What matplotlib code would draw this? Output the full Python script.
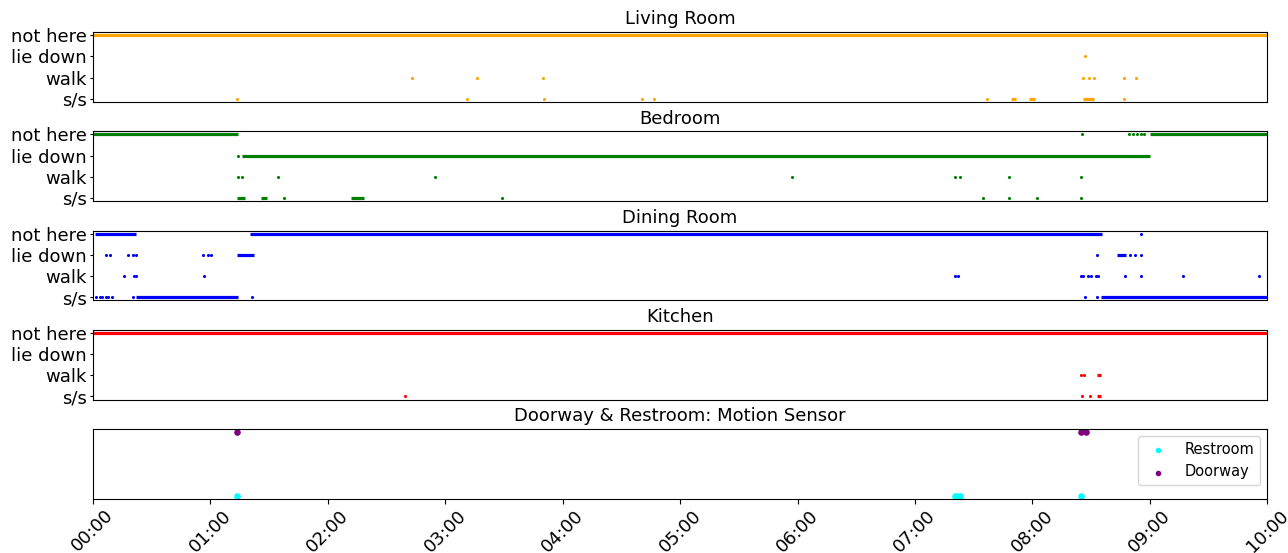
import matplotlib
matplotlib.use("Agg")
import matplotlib.pyplot as plt

# Activity states per room (y positions 0..3)
states = ["s/s", "walk", "lie down", "not here"]
hour_ticks = list(range(0, 11))
hour_labels = [f"{h:02d}:00" for h in hour_ticks]

# Each room: continuous runs (start_h, end_h, state_index) and isolated samples (hour, state_index)
living_runs = [(0.0, 10.0, 3), (7.82, 7.86, 0), (7.97, 8.02, 0), (8.43, 8.52, 0)]
living_points = [
    (8.45, 2),
    (2.72, 1), (3.27, 1), (3.83, 1), (8.43, 1), (8.48, 1), (8.52, 1), (8.78, 1), (8.88, 1),
    (1.23, 0), (3.19, 0), (3.84, 0), (4.68, 0), (4.78, 0), (7.61, 0), (8.78, 0),
]

bedroom_runs = [(0.0, 1.24, 3), (9.00, 10.0, 3), (1.27, 9.00, 2),
                (2.20, 2.31, 0), (1.23, 1.30, 0), (1.43, 1.48, 0)]
bedroom_points = [
    (8.42, 3), (8.82, 3), (8.86, 3), (8.89, 3), (8.92, 3), (8.95, 3),
    (1.24, 2),
    (1.24, 1), (1.27, 1), (1.58, 1), (2.91, 1), (5.95, 1), (7.34, 1), (7.38, 1), (7.80, 1), (8.41, 1),
    (1.63, 0), (3.48, 0), (7.58, 0), (7.80, 0), (8.04, 0), (8.41, 0),
]

dining_runs = [(0.02, 0.37, 3), (1.34, 8.59, 3), (1.23, 1.37, 2),
               (0.37, 1.24, 0), (8.58, 10.0, 0), (8.72, 8.80, 2)]
dining_points = [
    (8.92, 3),
    (0.11, 2), (0.15, 2), (0.30, 2), (0.34, 2), (0.37, 2), (0.94, 2), (0.98, 2), (1.01, 2),
    (8.55, 2), (8.83, 2), (8.87, 2), (8.92, 2),
    (0.27, 1), (0.35, 1), (0.37, 1), (0.95, 1), (7.34, 1), (7.37, 1), (8.41, 1), (8.43, 1),
    (8.47, 1), (8.50, 1), (8.54, 1), (8.56, 1), (8.79, 1), (8.92, 1), (9.28, 1), (9.93, 1),
    (0.03, 0), (0.06, 0), (0.08, 0), (0.11, 0), (0.13, 0), (0.16, 0), (0.34, 0),
    (1.36, 0), (8.45, 0), (8.55, 0),
]

kitchen_runs = [(0.0, 10.0, 3), (8.55, 8.58, 1), (8.55, 8.58, 0)]
kitchen_points = [(8.41, 1), (8.44, 1), (8.42, 0), (8.49, 0), (2.66, 0)]

# Motion sensor triggers (hours)
restroom_times = [1.23, 7.34, 7.36, 7.38, 8.41]
doorway_times = [1.23, 8.41, 8.46]

rooms = [
    ("Living Room", "orange", living_runs, living_points),
    ("Bedroom", "green", bedroom_runs, bedroom_points),
    ("Dining Room", "blue", dining_runs, dining_points),
    ("Kitchen", "red", kitchen_runs, kitchen_points),
]

fig, axes = plt.subplots(5, 1, figsize=(12.88, 5.53), dpi=100, sharex=True)
fig.subplots_adjust(left=0.072, right=0.984, top=0.942, bottom=0.098, hspace=0.42)

for ax, (title, color, runs, points) in zip(axes[:4], rooms):
    for start, end, st in runs:
        ax.hlines(st, start, end, color=color, linewidth=2.3)
    ax.scatter([p[0] for p in points], [p[1] for p in points], s=5, color=color, linewidths=0)
    ax.set_ylim(-0.15, 3.15)
    ax.set_yticks(range(len(states)))
    ax.set_yticklabels(states, fontsize=13)
    ax.tick_params(axis="y", length=2.5, pad=2)
    ax.set_title(title, fontsize=13, pad=5.5)
    ax.tick_params(axis="x", bottom=False, labelbottom=False)

ax = axes[4]
ax.scatter(restroom_times, [0] * len(restroom_times), s=14, color="cyan", label="Restroom")
ax.scatter(doorway_times, [1] * len(doorway_times), s=14, color="purple", label="Doorway")
ax.set_ylim(-0.05, 1.05)
ax.set_yticks([])
ax.set_title("Doorway & Restroom: Motion Sensor", fontsize=13, pad=5.5)
ax.legend(loc="upper right", fontsize=10.5, markerscale=0.8)
ax.set_xlim(0, 10)
ax.set_xticks(hour_ticks)
ax.set_xticklabels(hour_labels, rotation=45, fontsize=13)
ax.tick_params(axis="x", length=3.5, pad=2)

fig.savefig("out.png", dpi=100)
